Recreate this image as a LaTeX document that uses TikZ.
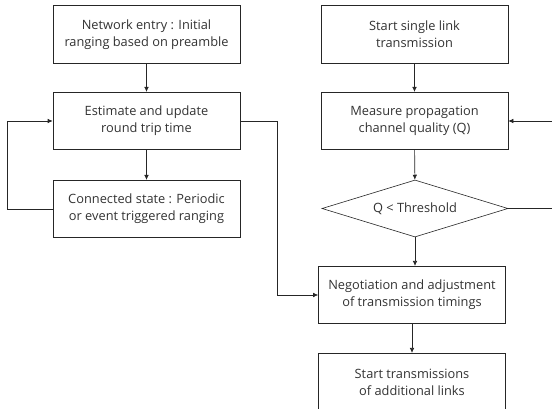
\documentclass[tikz,border=0pt]{standalone}
\usepackage{fontspec}
\setmainfont{Open Sans}
\usetikzlibrary{shapes.geometric,arrows.meta}
\begin{document}
\begin{tikzpicture}[x=1pt,y=-1pt,
  line width=0.6pt,
  box/.style={draw=black!85, minimum width=187pt, minimum height=57.5pt, align=center, inner sep=0pt, font=\fontsize{12.8}{17}\selectfont, text=black!80},
  dia/.style={draw=black!85, diamond, aspect=3.26, minimum width=186pt, minimum height=57pt, inner sep=0pt, font=\fontsize{12.8}{17}\selectfont, text=black!80},
  arr/.style={draw=black!85, -{Latex[length=5pt,width=4.5pt]}},
  ln/.style={draw=black!85}]
\clip (0,0) rectangle (552,409);
\fill[white] (0,0) rectangle (552,409);
\node[box] (ne) at (146.5,34.5) {Network entry : Initial\\ranging based on preamble};
\node[box] (est) at (146.5,121) {Estimate and update\\round trip time};
\node[box] (con) at (146.5,209) {Connected state : Periodic\\or event triggered ranging};
\node[box] (ssl) at (414.5,34.5) {Start single link\\transmission};
\node[box] (mea) at (414.5,121) {Measure propagation\\channel quality (Q)};
\node[dia] (thr) at (415,208.5) {Q < Threshold};
\node[box] (neg) at (412,295) {Negotiation and adjustment\\of transmission timings};
\node[box] (add) at (412,382) {Start transmissions\\of additional links};
\coordinate (off) at (570,208.5);
\draw[arr] (ne) -- (est);
\draw[arr] (est) -- (con);
\draw[arr] (con.west) -- ++(-45,0) |- (est.west);
\draw[arr] (est.east) -- ++(37,0) |- (neg.west);
\draw[arr] (ssl) -- (mea);
\draw[arr] (mea) -- (thr);
\draw[arr] (thr.south) -- (thr.south |- neg.north);
\draw[arr] (thr.east) -- (off) |- (mea.east);
\draw[arr] (neg) -- (add);
\end{tikzpicture}
\end{document}
